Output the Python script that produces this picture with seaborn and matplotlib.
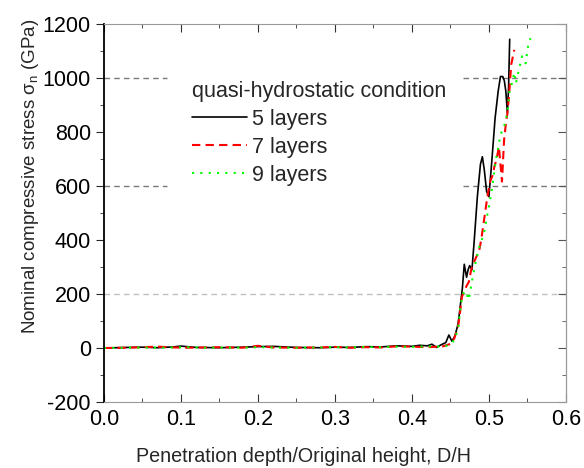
import numpy as np
import pandas as pd
import matplotlib
matplotlib.use("Agg")
import matplotlib.pyplot as plt
import seaborn as sns
from matplotlib.ticker import MultipleLocator

# Datos (D/H vs esfuerzo nominal en GPa)
d5 = [0.0, 0.03, 0.05, 0.07, 0.09, 0.10, 0.12, 0.15, 0.18, 0.20, 0.22, 0.25,
      0.28, 0.30, 0.32, 0.34, 0.36, 0.38, 0.40, 0.41, 0.42, 0.426, 0.432, 0.438,
      0.444, 0.448, 0.452, 0.456, 0.460, 0.463, 0.4655, 0.468, 0.471, 0.473,
      0.475, 0.478, 0.481, 0.485, 0.489, 0.4915, 0.494, 0.497, 0.500, 0.504,
      0.508, 0.512, 0.515, 0.518, 0.520, 0.522, 0.524, 0.5255, 0.527]
s5 = [0, 2, 3, 1, 4, 7, 2, 1, 3, 5, 6, 2,
      1, 3, 2, 5, 4, 8, 6, 10, 8, 14, 2, 12,
      20, 48, 25, 45, 90, 160, 220, 310, 262, 290,
      305, 290, 400, 560, 680, 708, 660, 580, 560, 700,
      850, 950, 1005, 1005, 990, 950, 870, 960, 1143]

d7 = [0.0, 0.03, 0.05, 0.07, 0.09, 0.11, 0.13, 0.15, 0.18, 0.20, 0.22, 0.25,
      0.28, 0.30, 0.32, 0.34, 0.36, 0.38, 0.40, 0.42, 0.44, 0.45, 0.455, 0.46,
      0.462, 0.465, 0.468, 0.471, 0.474, 0.477, 0.481, 0.484, 0.487, 0.490,
      0.494, 0.498, 0.502, 0.505, 0.507, 0.510, 0.513, 0.515, 0.517, 0.5197,
      0.522, 0.524, 0.526, 0.529, 0.533]
s7 = [0, 1, 3, 5, 2, 1, 2, 3, 1, 8, 2, 1,
      2, 4, 1, 3, 2, 6, 5, 3, 6, 15, 35, 80,
      120, 190, 210, 230, 245, 290, 320, 340, 355, 400,
      480, 560, 620, 640, 670, 700, 745, 680, 616, 770,
      830, 868, 930, 1050, 1104]

d9 = [0.0, 0.03, 0.05, 0.07, 0.09, 0.11, 0.13, 0.15, 0.18, 0.20, 0.22, 0.25,
      0.28, 0.30, 0.32, 0.34, 0.36, 0.38, 0.40, 0.42, 0.44, 0.45, 0.455, 0.46,
      0.463, 0.466, 0.470, 0.474, 0.477, 0.479, 0.483, 0.487, 0.4937, 0.497,
      0.500, 0.5045, 0.509, 0.512, 0.515, 0.5197, 0.524, 0.527, 0.530, 0.533,
      0.535, 0.539, 0.543, 0.5477, 0.551, 0.554]
s9 = [0, 1, 2, 1, 2, 3, 1, 2, 1, 3, 2, 1,
      2, 3, 2, 4, 3, 5, 4, 6, 5, 12, 30, 70,
      150, 200, 211, 178, 230, 264, 320, 370, 425, 480,
      523, 597, 696, 740, 790, 820, 870, 960, 980, 1020,
      980, 1030, 1080, 1054, 1120, 1147]

grid_light = [200]
grid_dark = [600, 1000]

sns.set_style("ticks")
plt.rcParams["font.family"] = ["Liberation Sans", "DejaVu Sans"]
plt.rcParams["mathtext.default"] = "regular"
plt.rcParams["axes.unicode_minus"] = False

fig, ax = plt.subplots(figsize=(5.84, 4.68), dpi=100)
fig.subplots_adjust(left=0.178, right=0.969, bottom=0.141, top=0.949)

# lineas de referencia; las de 600 y 1000 se cortan donde va la leyenda
for y in grid_light:
    ax.axhline(y, color="#c0c0c0", ls=(0, (4, 3)), lw=1.0, zorder=0)
for y in grid_dark:
    ax.axhline(y, xmax=0.137, color="#7a7a7a", ls=(0, (4, 3)), lw=1.0, zorder=0)
    ax.axhline(y, xmin=0.777, color="#7a7a7a", ls=(0, (4, 3)), lw=1.0, zorder=0)

sns.lineplot(x=d5, y=s5, color="black", lw=1.2, label="5 layers", ax=ax, estimator=None, sort=False)
sns.lineplot(x=d7, y=s7, color="#ff0000", lw=1.5, ls=(0, (4, 2.5)), label="7 layers", ax=ax, estimator=None, sort=False)
sns.lineplot(x=d9, y=s9, color="#00ff00", lw=1.5, ls=(0, (1, 3)), label="9 layers", ax=ax, estimator=None, sort=False)

ax.set_xlim(0.0, 0.6)
ax.set_ylim(-200, 1200)
ax.xaxis.set_major_locator(MultipleLocator(0.1))
ax.xaxis.set_minor_locator(MultipleLocator(0.05))
ax.yaxis.set_major_locator(MultipleLocator(200))
ax.yaxis.set_minor_locator(MultipleLocator(100))
ax.xaxis.set_major_formatter(plt.FormatStrFormatter("%.1f"))

ax.tick_params(axis="x", which="both", direction="in", top=True, labelsize=15.5, colors="#333333", labelcolor="black", pad=5)
ax.tick_params(axis="x", which="major", length=6)
ax.tick_params(axis="x", which="minor", length=3)
ax.tick_params(axis="y", which="both", direction="out", left=True, right=False, labelsize=15.5, labelcolor="black")
ax.tick_params(axis="y", which="major", length=6)
ax.tick_params(axis="y", which="minor", length=3)

# ticks internos del lado derecho
ax2 = ax.secondary_yaxis("right")
ax2.yaxis.set_major_locator(MultipleLocator(200))
ax2.yaxis.set_minor_locator(MultipleLocator(100))
ax2.tick_params(which="both", direction="in", labelright=False, colors="#555555")
ax2.tick_params(which="major", length=6)
ax2.tick_params(which="minor", length=3)
ax2.spines["right"].set_color("#888888")

for side in ["top", "right", "bottom"]:
    ax.spines[side].set_visible(True)
    ax.spines[side].set_color("#999999")
ax.spines["left"].set_color("black")
ax.spines["left"].set_linewidth(1.3)

ax.set_xlabel("Penetration depth/Original height, D/H", fontsize=14.2)
ax.xaxis.set_label_coords(0.433, -0.118)
ax.set_ylabel("Nominal compressive stress σ$_n$ (GPa)", fontsize=13.5)
ax.yaxis.set_label_coords(-0.136, 0.598)

leg = ax.legend(title="quasi-hydrostatic condition", loc="upper left",
                bbox_to_anchor=(0.148, 0.9), fontsize=15.5, title_fontsize=15.5,
                frameon=False, handlelength=2.55, handletextpad=0.25,
                labelspacing=0.32, alignment="left", borderpad=0.4)

fig.savefig("out.png", dpi=100)
